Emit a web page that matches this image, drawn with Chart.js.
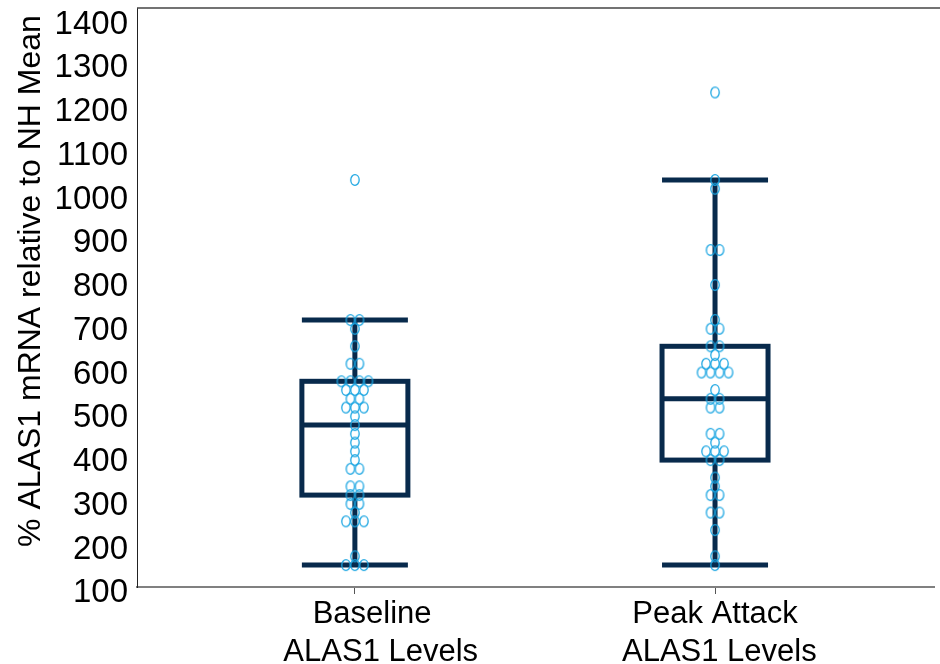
<!DOCTYPE html>
<html>
<head>
<meta charset="utf-8">
<script src="https://cdn.jsdelivr.net/npm/chart.js@4/dist/chart.umd.min.js"></script>
<style>
html,body{margin:0;padding:0;background:#fff;}
#wrap{width:940px;height:664px;}
</style>
</head>
<body>
<div id="wrap"><canvas id="c" width="940" height="664"></canvas></div>
<script>
// ---- data ----
const categories = [['Baseline', 'ALAS1 Levels'], ['Peak Attack', 'ALAS1 Levels']];
const whiskerLow  = [160, 160];
const quartile1   = [320, 400];
const medians     = [480, 540];
const quartile3   = [580, 660];
const whiskerHigh = [720, 1040];
const baselineValues = [1040, 720, 720, 700, 660, 620, 620, 580, 580, 580, 580, 560, 560, 560,
  540, 540, 520, 520, 520, 500, 480, 460, 440, 420, 400, 380, 380, 340, 340, 320, 320,
  300, 300, 280, 260, 260, 260, 180, 160, 160, 160];
const peakValues = [1240, 1040, 1020, 880, 880, 800, 720, 700, 700, 660, 660, 640, 620, 620, 620,
  600, 600, 600, 600, 560, 540, 540, 520, 520, 460, 460, 440, 420, 420, 420, 400, 400,
  360, 340, 320, 320, 280, 280, 240, 180, 160];
const yTicks = [100, 200, 300, 400, 500, 600, 700, 800, 900, 1000, 1100, 1200, 1300, 1400];
const yTitle = '% ALAS1 mRNA relative to NH Mean';

// ---- styling ----
const BOX_COLOR = '#082a4c';
const DOT_COLOR = '#1ca6e2';
const FONT = '"Liberation Sans", Arial, sans-serif';
const SWARM_STEP = 0.025; // x-units between side-by-side dots
const LABEL_INDENT = [[4, 6], [0, 1]]; // leading spaces per label line (as in the source figure)

function swarm(values, center) {
  const counts = {}, seen = {};
  values.forEach(v => counts[v] = (counts[v] || 0) + 1);
  return values.map(v => {
    const n = counts[v];
    const i = seen[v] = (seen[v] === undefined ? 0 : seen[v] + 1);
    return { x: center + (i - (n - 1) / 2) * SWARM_STEP, y: v };
  });
}

// hollow oval marker
const dot = document.createElement('canvas');
dot.width = 12; dot.height = 14;
(function () {
  const g = dot.getContext('2d');
  g.strokeStyle = DOT_COLOR; g.lineWidth = 1.3;
  g.beginPath(); g.ellipse(6, 7, 4.2, 5.3, 0, 0, Math.PI * 2); g.stroke();
})();

const boxPlugin = {
  id: 'boxes',
  beforeDatasetsDraw(chart) {
    const ctx = chart.ctx, xs = chart.scales.x, ys = chart.scales.y;
    ctx.save();
    ctx.strokeStyle = BOX_COLOR; ctx.lineWidth = 5; ctx.lineCap = 'butt';
    for (let i = 0; i < categories.length; i++) {
      const cx = xs.getPixelForValue(i + 1);
      const hw = 53;
      const yl = ys.getPixelForValue(whiskerLow[i]), y1 = ys.getPixelForValue(quartile1[i]),
            ym = ys.getPixelForValue(medians[i]), y3 = ys.getPixelForValue(quartile3[i]),
            yh = ys.getPixelForValue(whiskerHigh[i]);
      ctx.beginPath();
      ctx.moveTo(cx, yl); ctx.lineTo(cx, y1);
      ctx.moveTo(cx, y3); ctx.lineTo(cx, yh);
      ctx.moveTo(cx - hw, yl); ctx.lineTo(cx + hw, yl);
      ctx.moveTo(cx - hw, yh); ctx.lineTo(cx + hw, yh);
      ctx.moveTo(cx - hw, ym); ctx.lineTo(cx + hw, ym);
      ctx.stroke();
      ctx.strokeRect(cx - hw, y3, hw * 2, y1 - y3);
    }
    ctx.restore();
  },
  afterDraw(chart) {
    const ctx = chart.ctx, a = chart.chartArea;
    ctx.save();
    ctx.strokeStyle = '#444'; ctx.lineWidth = 1.5;
    ctx.beginPath(); ctx.moveTo(a.left, a.top); ctx.lineTo(chart.width, a.top); ctx.stroke();
    ctx.fillStyle = '#000';
    ctx.font = '32px ' + FONT;
    ctx.textAlign = 'center'; ctx.textBaseline = 'middle';
    ctx.translate(31, 281); ctx.rotate(-Math.PI / 2);
    ctx.fillText(yTitle, 0, 0);
    ctx.restore();
  }
};

new Chart(document.getElementById('c'), {
  type: 'scatter',
  data: {
    datasets: [
      { label: 'Baseline', data: swarm(baselineValues, 1), pointStyle: dot, pointRadius: 5, pointHoverRadius: 5 },
      { label: 'Peak Attack', data: swarm(peakValues, 2), pointStyle: dot, pointRadius: 5, pointHoverRadius: 5 }
    ]
  },
  options: {
    responsive: false,
    animation: false,
    events: [],
    layout: { padding: { top: 8, right: 0, left: 0, bottom: 0 } },
    plugins: { legend: { display: false }, tooltip: { enabled: false } },
    scales: {
      x: {
        type: 'linear', min: 0.395, max: 2.608,
        afterBuildTicks: s => { s.ticks = [{ value: 1 }, { value: 2 }]; },
        afterFit: s => { s.height = 77; s.paddingLeft = 0; s.paddingRight = 0; },
        border: { display: true, color: '#808080', width: 2 },
        grid: { display: true, drawOnChartArea: false, drawTicks: true, tickLength: 7, tickColor: '#555', tickWidth: 1 },
        ticks: {
          autoSkip: false, maxRotation: 0, padding: 1,
          color: '#000', font: { family: FONT, size: 31, lineHeight: 1.24 },
          callback: v => {
            const lines = categories[v - 1];
            if (!lines) return '';
            return lines.map((t, j) => '\u00a0'.repeat(LABEL_INDENT[v - 1][j]) + t);
          }
        }
      },
      y: {
        type: 'linear', min: 110, max: 1433,
        afterBuildTicks: s => { s.ticks = yTicks.map(v => ({ value: v })); },
        afterFit: s => { s.width = 137; s.paddingTop = 0; s.paddingBottom = 0; },
        border: { display: true, color: '#222', width: 1 },
        grid: { display: false, drawTicks: false },
        ticks: { autoSkip: false, padding: 9, labelOffset: 2, color: '#000', font: { family: FONT, size: 33 },
          callback: v => String(v) }
      }
    }
  },
  plugins: [boxPlugin]
});
</script>
</body>
</html>
